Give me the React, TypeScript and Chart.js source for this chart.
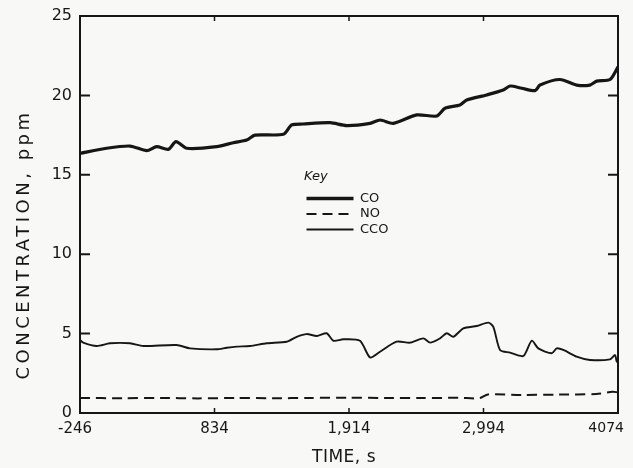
import { useEffect, useRef } from 'react';
import { Chart, registerables } from 'chart.js';

Chart.register(...registerables);

// ---- data ----
const seriesNames = ['CO', 'NO', 'CCO'];

const coTime = [-246, -32, 156, 290, 370, 463, 525, 611, 852, 985, 1093, 1159, 1387, 1454, 1545, 1762, 1896, 2083, 2164, 2270, 2458, 2618, 2685, 2805, 2859, 3020, 3153, 3207, 3301, 3408, 3448, 3608, 3742, 3849, 3903, 4010, 4074];
const coPpm = [16.35, 16.67, 16.81, 16.52, 16.77, 16.6, 17.09, 16.67, 16.77, 17.02, 17.19, 17.5, 17.55, 18.14, 18.2, 18.28, 18.1, 18.24, 18.45, 18.24, 18.77, 18.7, 19.19, 19.4, 19.71, 20.03, 20.34, 20.59, 20.45, 20.3, 20.65, 21.0, 20.65, 20.65, 20.9, 21.0, 21.8];

const noTime = [-246, 100, 400, 700, 1000, 1300, 1600, 1900, 2200, 2500, 2800, 2960, 3030, 3300, 3600, 3900, 4030, 4074];
const noPpm = [0.95, 0.93, 0.95, 0.92, 0.95, 0.93, 0.95, 0.96, 0.95, 0.94, 0.96, 0.93, 1.17, 1.14, 1.16, 1.2, 1.34, 1.3];

const ccoTime = [-246, -220, -112, -5, 156, 262, 530, 637, 852, 932, 1012, 1119, 1253, 1414, 1494, 1574, 1655, 1735, 1788, 1868, 2002, 2083, 2163, 2297, 2404, 2511, 2565, 2645, 2699, 2752, 2832, 2940, 3033, 3073, 3127, 3207, 3314, 3381, 3434, 3542, 3582, 3635, 3742, 3849, 4010, 4050, 4064, 4074];
const ccoPpm = [4.6, 4.43, 4.22, 4.39, 4.39, 4.22, 4.28, 4.07, 4.01, 4.11, 4.18, 4.22, 4.39, 4.49, 4.8, 4.97, 4.85, 5.02, 4.55, 4.64, 4.55, 3.5, 3.86, 4.49, 4.43, 4.7, 4.43, 4.7, 5.02, 4.8, 5.33, 5.48, 5.69, 5.43, 3.97, 3.8, 3.59, 4.55, 4.07, 3.76, 4.07, 3.97, 3.55, 3.34, 3.38, 3.65, 3.23, 3.4];

const xTickValues = [-246, 834, 1914, 2994, 4074];
const xTickLabels = ['-246', '834', '1,914', '2,994', '4074'];
const yTickLabels = ['0', '5', '10', '15', '20', '25'];

const INK = '#161616';
const FONT = "'DejaVu Sans', 'Liberation Sans', sans-serif";

const pairs = (xs: number[], ys: number[]) => xs.map((x, i) => ({ x, y: ys[i] }));

const paperPlugin = {
  id: 'paper',
  beforeDraw(chart: any) {
    const { ctx, width, height } = chart;
    ctx.save();
    ctx.fillStyle = '#f8f8f6';
    ctx.fillRect(0, 0, width, height);
    ctx.restore();
  },
};

const titleTweaks: Record<string, { spacing: string; dx: number; dy: number }> = {
  y: { spacing: '3.5px', dx: 0, dy: 30 },
  x: { spacing: '0.5px', dx: -5, dy: 0 },
};

const tweakPlugin = {
  id: 'tweak',
  beforeDraw(chart: any) {
    for (const id of ['x', 'y']) {
      const s = chart.scales[id];
      if (s && !s.__tw) {
        const orig = s.drawTitle;
        const tw = titleTweaks[id];
        s.drawTitle = function () {
          const c = this.ctx;
          c.save();
          c.letterSpacing = tw.spacing;
          c.translate(tw.dx, tw.dy);
          orig.call(this);
          c.restore();
        };
        s.__tw = true;
      }
    }
    const xs = chart.scales.x;
    if (xs && !xs.__li) {
      const origItems = xs.getLabelItems;
      xs.getLabelItems = function (area: any) {
        const items = origItems.call(this, area);
        if (items.length) {
          const first = items[0];
          const last = items[items.length - 1];
          if (!first.__adj) {
            first.options.translation = [first.options.translation[0] - 5, first.options.translation[1]];
            first.__adj = true;
          }
          if (!last.__adj) {
            last.options.textAlign = 'right';
            last.options.translation = [this.right + 6, last.options.translation[1]];
            last.__adj = true;
          }
        }
        return items;
      };
      xs.__li = true;
    }
  },
};

const legendPlacePlugin = {
  id: 'legendPlace',
  afterLayout(chart: any) {
    const lg = chart.legend;
    if (!lg) return;
    const w = lg.width;
    const h = lg.height;
    lg.left = 304;
    lg.top = 170;
    lg.right = 304 + w;
    lg.bottom = 170 + h;
  },
};

const framePlugin = {
  id: 'frame',
  afterDatasetsDraw(chart: any) {
    const { ctx, chartArea: a, scales } = chart;
    ctx.save();
    ctx.strokeStyle = INK;
    ctx.lineWidth = 2;
    ctx.strokeRect(a.left, a.top, a.right - a.left, a.bottom - a.top);
    ctx.beginPath();
    for (const t of scales.y.ticks) {
      if (t.value <= 0 || t.value >= 25) continue;
      const py = scales.y.getPixelForValue(t.value);
      ctx.moveTo(a.left, py);
      ctx.lineTo(a.left + 10, py);
      ctx.moveTo(a.right - 10, py);
      ctx.lineTo(a.right, py);
    }
    ctx.stroke();
    ctx.lineWidth = 1.5;
    ctx.beginPath();
    for (const v of xTickValues.slice(1, -1)) {
      const px = scales.x.getPixelForValue(v);
      ctx.moveTo(px, a.top);
      ctx.lineTo(px, a.top + 5);
      ctx.moveTo(px, a.bottom);
      ctx.lineTo(px, a.bottom - 5);
    }
    ctx.stroke();
    ctx.restore();
  },
};

export default function App() {
  const ref = useRef<HTMLCanvasElement | null>(null);

  useEffect(() => {
    if (!ref.current) return;
    const chart = new Chart(ref.current, {
      type: 'line',
      data: {
        datasets: [
          {
            label: seriesNames[0],
            data: pairs(coTime, coPpm),
            borderColor: INK,
            backgroundColor: INK,
            borderWidth: 3.2,
            pointRadius: 0,
            tension: 0.25,
          },
          {
            label: seriesNames[1],
            data: pairs(noTime, noPpm),
            borderColor: INK,
            backgroundColor: INK,
            borderWidth: 2,
            borderDash: [10, 6],
            pointRadius: 0,
            tension: 0.25,
          },
          {
            label: seriesNames[2],
            data: pairs(ccoTime, ccoPpm),
            borderColor: INK,
            backgroundColor: INK,
            borderWidth: 1.9,
            pointRadius: 0,
            tension: 0.25,
          },
        ],
      },
      options: {
        animation: false,
        responsive: true,
        maintainAspectRatio: false,
        layout: { padding: { top: 16, right: 15, left: 0, bottom: 0 } },
        scales: {
          x: {
            type: 'linear',
            min: -246,
            max: 4074,
            afterBuildTicks: (scale: any) => {
              scale.ticks = xTickValues.map((v) => ({ value: v }));
            },
            afterFit: (scale: any) => {
              scale.height = 55;
              scale.paddingLeft = 0;
              scale.paddingRight = 0;
            },
            grid: { display: false, drawTicks: false },
            border: { display: false },
            ticks: {
              autoSkip: false,
              maxRotation: 0,
              padding: 7,
              color: INK,
              font: (c: any) => ({ family: FONT, size: c.index === xTickValues.length - 1 ? 14 : 15 }),
              callback: (_v: any, i: number) => xTickLabels[i],
            },
            title: {
              display: true,
              text: 'TIME, s',
              color: INK,
              font: { family: FONT, size: 17 },
              padding: { top: 0, bottom: 0 },
            },
          },
          y: {
            type: 'linear',
            min: 0,
            max: 25,
            afterFit: (scale: any) => {
              scale.width = 80;
              scale.paddingTop = 0;
              scale.paddingBottom = 0;
            },
            grid: { display: false, drawTicks: false },
            border: { display: false },
            ticks: {
              stepSize: 5,
              padding: 8,
              color: INK,
              font: { family: FONT, size: 16 },
              callback: (_v: any, i: number) => yTickLabels[i],
            },
            title: {
              display: true,
              text: 'CONCENTRATION, ppm',
              color: INK,
              font: { family: FONT, size: 18 },
              padding: { top: 14, bottom: 0 },
            },
          },
        },
        plugins: {
          tooltip: { enabled: false },
          legend: {
            display: true,
            position: 'chartArea',
            align: 'start',
            title: {
              display: true,
              text: 'Key',
              position: 'start',
              color: INK,
              font: { family: FONT, size: 13, style: 'italic' },
              padding: { top: 0, bottom: 4 },
            },
            labels: {
              usePointStyle: true,
              pointStyleWidth: 47,
              padding: 2.5,
              color: INK,
              font: { family: FONT, size: 13 },
              generateLabels: (c: any) =>
                c.data.datasets.map((ds: any, i: number) => ({
                  text: ds.label,
                  strokeStyle: ds.borderColor,
                  fillStyle: 'rgba(0,0,0,0)',
                  fontColor: INK,
                  lineWidth: i === 0 ? 3.5 : 2,
                  lineDash: ds.borderDash || [],
                  lineCap: 'butt',
                  pointStyle: 'line',
                  hidden: false,
                  datasetIndex: i,
                })),
            },
          },
        },
      } as any,
      plugins: [paperPlugin, tweakPlugin, legendPlacePlugin, framePlugin],
    });
    return () => chart.destroy();
  }, []);

  return (
    <div style={{ position: 'fixed', left: 0, top: 0, width: 633, height: 468 }}>
      <canvas ref={ref} />
    </div>
  );
}
